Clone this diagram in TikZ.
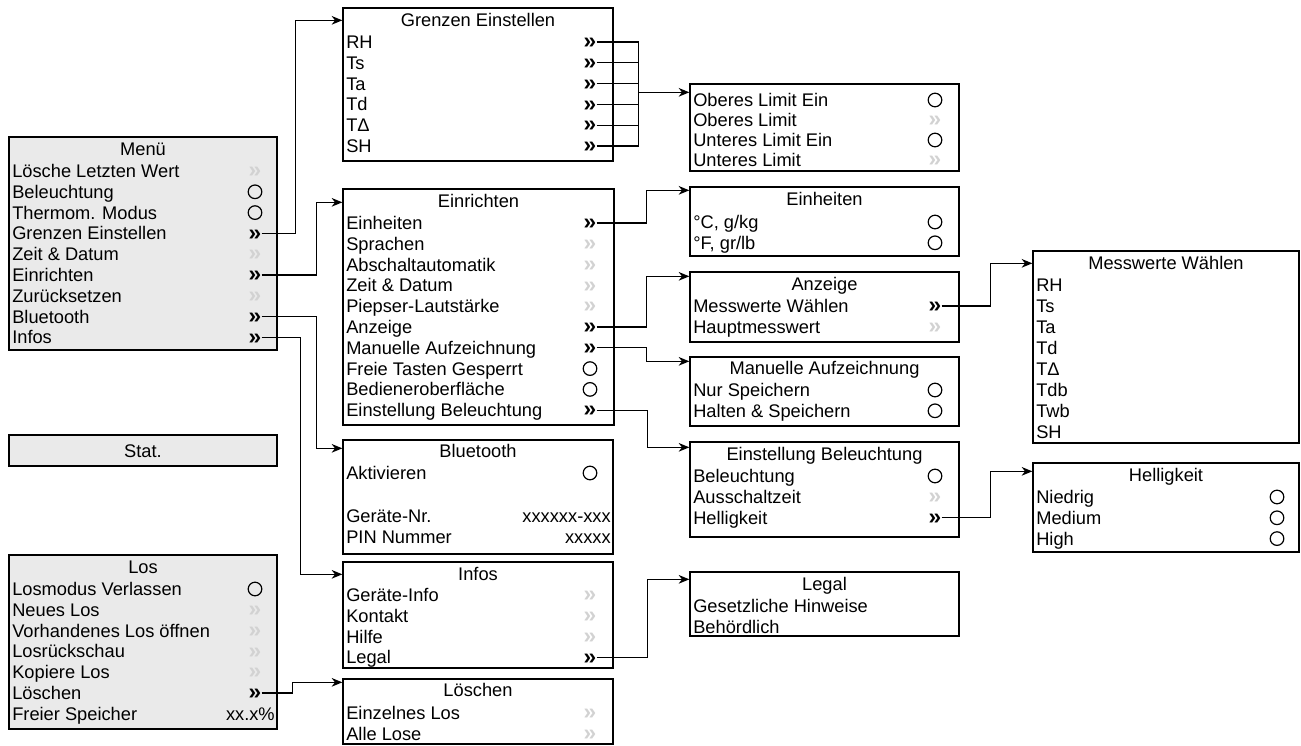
\documentclass[tikz,border=0pt]{standalone}
\usepackage{fontspec}
\setmainfont{Liberation Sans}
\usetikzlibrary{arrows.meta,calc,fit,positioning}
\definecolor{panelgray}{RGB}{234,234,234}
\definecolor{dimgray}{RGB}{210,210,210}
\newcommand{\panel}[6][plain]{%
  \node[#1,fit={(#3,#4) (#5,#6)}] (#2) {};
}
\newcommand{\menurows}[6][20.8]{%
  \foreach \txt/\kind [count=\i] in {#6}{
    \node[item] (#2-t\i) at (#4,{#3+#1*(\i-1)}) {\txt};
    \node[\kind] (#2-\i) at (#5,{#3+#1*(\i-1)}) {};
  }
}
\tikzset{
  plain/.style={draw,line width=1pt,inner sep=0pt},
  shaded/.style={plain,fill=panelgray,line width=1.3pt},
  item/.style={anchor=west,inner sep=0pt,text height=9.8pt,text depth=0pt},
  head/.style={inner sep=0pt,text height=9.8pt,text depth=0pt},
  value/.style={anchor=east,inner sep=0pt,text height=9.8pt,text depth=0pt},
  on/.style={inner sep=0pt,font=\fontsize{17pt}{17pt}\selectfont\bfseries,
    text height=10pt,text depth=0pt,execute at begin node={»}},
  off/.style={on,text=dimgray},
  radio/.style={circle,draw,line width=0.9pt,minimum size=10.2pt,inner sep=0pt},
  none/.style={inner sep=0pt},
  wire/.style={line width=0.9pt},
  link/.style={wire,-{Stealth[length=8pt,width=6.5pt,inset=2.5pt]}}
}

\begin{document}
\begin{tikzpicture}[x=0.75pt,y=-0.75pt,font=\fontsize{13.7pt}{16pt}\selectfont]
  \useasboundingbox (0,0) rectangle (1301,745);
  % left column
  \panel[shaded]{menu}{9}{137}{277}{350}
  \node[head] (menu-h) at ($(menu.north)+(0,13)$) {Menü};
  \menurows{menu}{171}{12}{255}{Lösche Letzten Wert/off, Beleuchtung/radio,
    Thermom. Modus/radio, Grenzen Einstellen/on, Zeit \& Datum/off, Einrichten/on,
    Zurücksetzen/off, Bluetooth/on, Infos/on}
  \panel[shaded]{stat}{9}{435}{277}{466}
  \node[head] (stat-h) at (stat.center) {Stat.};
  \panel[shaded]{los}{9}{555}{277}{729}
  \node[head] (los-h) at ($(los.north)+(0,13)$) {Los};
  \menurows{los}{589}{12}{255}{Losmodus Verlassen/radio, Neues Los/off,
    Vorhandenes Los öffnen/off, Losrückschau/off, Kopiere Los/off, Löschen/on,
    Freier Speicher/none}
  \node[value] (los-v) at (275,714) {xx.x\%};

  % second column
  \panel{gren}{343}{8}{613}{161}
  \node[head] (gren-h) at ($(gren.north)+(0,13)$) {Grenzen Einstellen};
  \menurows{gren}{42}{346}{590}{RH/on, Ts/on, Ta/on, Td/on, TΔ/on, SH/on}
  \panel{einr}{343}{189}{614}{425}
  \node[head] (einr-h) at ($(einr.north)+(0,13)$) {Einrichten};
  \menurows{einr}{223}{346}{590}{Einheiten/on, Sprachen/off, Abschaltautomatik/off,
    Zeit \& Datum/off, Piepser-Lautstärke/off, Anzeige/on, Manuelle Aufzeichnung/on,
    Freie Tasten Gesperrt/radio, Bedieneroberfläche/radio, Einstellung Beleuchtung/on}
  \panel{blue}{343}{440}{613}{554}
  \node[head] (blue-h) at ($(blue.north)+(0,12)$) {Bluetooth};
  \menurows{blue}{473}{346}{590}{Aktivieren/radio}
  \node[item] (blue-t2) at (346,516) {Geräte-Nr.};
  \node[value] (blue-v2) at (611,516) {xxxxxx-xxx};
  \node[item] (blue-t3) at (346,537) {PIN Nummer};
  \node[value] (blue-v3) at (611,537) {xxxxx};
  \panel{info}{343}{562}{613}{668}
  \node[head] (info-h) at ($(info.north)+(0,13)$) {Infos};
  \menurows{info}{595}{346}{590}{Geräte-Info/off, Kontakt/off, Hilfe/off, Legal/on}
  \panel{losch}{343}{679}{613}{744}
  \node[head] (losch-h) at ($(losch.north)+(0,12)$) {Löschen};
  \menurows{losch}{713}{346}{590}{Einzelnes Los/off, Alle Lose/off}

  % third column
  \panel{limit}{690}{84}{959}{171}
  \menurows[20]{limit}{100}{693}{935}{Oberes Limit Ein/radio, Oberes Limit/off,
    Unteres Limit Ein/radio, Unteres Limit/off}
  \panel{einh}{690}{187}{959}{256}
  \node[head] (einh-h) at ($(einh.north)+(0,13)$) {Einheiten};
  \menurows{einh}{222}{693}{935}{{°C, g/kg}/radio, {°F, gr/lb}/radio}
  \panel{anz}{690}{272}{959}{342}
  \node[head] (anz-h) at ($(anz.north)+(0,13)$) {Anzeige};
  \menurows{anz}{306}{693}{935}{Messwerte Wählen/on, Hauptmesswert/off}
  \panel{man}{690}{357}{959}{426}
  \node[head] (man-h) at ($(man.north)+(0,12)$) {Manuelle Aufzeichnung};
  \menurows{man}{390}{693}{935}{Nur Speichern/radio, Halten \& Speichern/radio}
  \panel{ebel}{690}{442}{959}{537}
  \node[head] (ebel-h) at ($(ebel.north)+(0,13)$) {Einstellung Beleuchtung};
  \menurows{ebel}{476}{693}{935}{Beleuchtung/radio, Ausschaltzeit/off, Helligkeit/on}
  \panel{legal}{690}{572}{959}{636}
  \node[head] (legal-h) at ($(legal.north)+(0,13)$) {Legal};
  \menurows{legal}{606}{693}{935}{Gesetzliche Hinweise/none, Behördlich/none}

  % fourth column
  \panel{mess}{1033}{251}{1299}{443}
  \node[head] (mess-h) at ($(mess.north)+(0,13)$) {Messwerte Wählen};
  \menurows[21]{mess}{285}{1036}{1277}{RH/none, Ts/none, Ta/none, Td/none, TΔ/none,
    Tdb/none, Twb/none, SH/none}
  \panel{hell}{1033}{463}{1299}{552}
  \node[head] (hell-h) at ($(hell.north)+(0,13)$) {Helligkeit};
  \menurows{hell}{497}{1036}{1277}{Niedrig/radio, Medium/radio, High/radio}

  % connectors
  \draw[link] (menu-4.east) -- ++(34,0) |- ($(gren.north west)+(0,13)$);
  \draw[link] (menu-6.east) -- ++(55,0) |- ($(einr.north west)+(0,14)$);
  \draw[link] (menu-8.east) -- ++(55,0) |- ($(blue.north west)+(0,9)$);
  \draw[link] (menu-9.east) -- ++(39,0) |- ($(info.north west)+(0,13)$);
  \draw[link] (los-6.east) -- ++(31,0) |- ($(losch.north west)+(0,4)$);
  \foreach \i in {1,...,6}
    \draw[wire] (gren-\i.east) -- ++(42,0);
  \coordinate (bus) at ($(gren-1.east)+(42,0)$);
  \coordinate (limin) at ($(limit.north west)+(0,9)$);
  \draw[wire] (bus) -- (bus |- gren-6.east);
  \draw[link] (bus |- limin) -- (limin);
  \draw[link] (einr-1.east) -- ++(50,0) |- ($(einh.north west)+(0,4)$);
  \draw[link] (einr-6.east) -- ++(50,0) |- ($(anz.north west)+(0,5)$);
  \draw[link] (einr-7.east) -- ++(50,0) |- ($(man.north west)+(0,5)$);
  \draw[link] (einr-10.east) -- ++(51,0) |- ($(ebel.north west)+(0,6)$);
  \draw[link] (info-4.east) -- ++(51,0) |- ($(legal.north west)+(0,8)$);
  \draw[link] (anz-1.east) -- ++(49,0) |- ($(mess.north west)+(0,13)$);
  \draw[link] (ebel-3.east) -- ++(49,0) |- ($(hell.north west)+(0,9)$);
\end{tikzpicture}
\end{document}
